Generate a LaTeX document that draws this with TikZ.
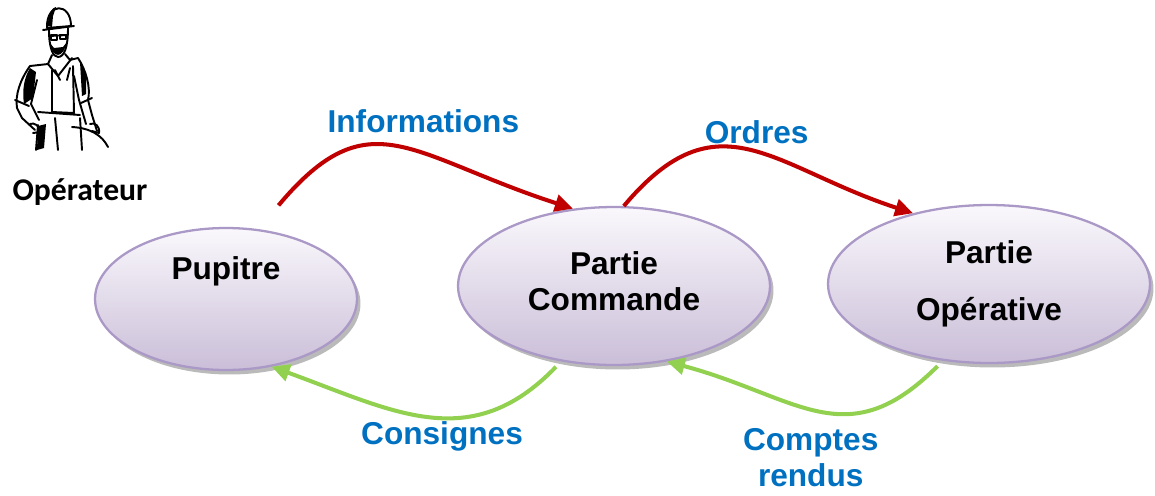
\documentclass[tikz,border=0pt]{standalone}
\usepackage{fontspec}
\setmainfont{Liberation Sans}
\newfontfamily\calibri{Carlito}
\usetikzlibrary{shapes.geometric,shadows,arrows.meta}

\definecolor{mauve}{RGB}{170,152,198}
\definecolor{mauveclair}{RGB}{250,248,252}
\definecolor{mauvefonce}{RGB}{202,190,216}
\definecolor{rouge}{RGB}{192,0,0}
\definecolor{vert}{RGB}{146,208,80}
\definecolor{bleu}{RGB}{0,112,192}

\tikzset{
  bloc/.style={ellipse, draw=mauve, line width=1.3pt, inner sep=0pt,
    top color=mauveclair, bottom color=mauvefonce, align=center,
    drop shadow={shadow xshift=0.07cm, shadow yshift=-0.09cm, fill=black!45, opacity=0.6},
    font=\bfseries\fontsize{18}{21}\selectfont},
  flux/.style={draw=rouge, line width=2.3pt, -{Triangle[length=0.36cm,width=0.34cm]}},
  retour/.style={draw=vert, line width=2.3pt, -{Triangle[length=0.36cm,width=0.34cm]}},
  etiquette/.style={text=bleu, align=center, font=\bfseries\fontsize{18}{20.5}\selectfont},
}

\begin{document}
\begin{tikzpicture}[x=0.02cm, y=0.02cm]
\useasboundingbox (0,0) rectangle (1155,495);

% l'operateur (croquis a l'encre)
\begin{scope}[shift={(0,495)}, yscale=-1, line width=1.1pt, line join=round, line cap=round]
  % casque
  \draw[fill=white] (47,28) .. controls (46,2) and (71,2) .. (71,26) -- cycle;
  \draw (43,30) -- (74,26);
  \fill (48,26) .. controls (48,12) and (52,8) .. (56,7) -- (53,16) -- (52,27) -- cycle;
  % visage, lunettes, barbe
  \draw (49,30) .. controls (49,48) and (53,57) .. (58,57) .. controls (64,57) and (68,48) .. (68,28);
  \draw (50,36) -- (67,35);
  \draw (51,35) rectangle (57,40) (60,35) rectangle (66,39);
  \fill (50,43) .. controls (53,59) and (63,59) .. (67,42) -- (63,47) -- (54,48) -- cycle;
  % cou et col
  \draw (52,55) -- (48,64) (65,54) -- (70,60);
  \draw (48,64) -- (58,76) -- (72,58);
  % epaules et bras
  \draw (48,64) -- (30,66) .. controls (20,80) and (15,95) .. (17,108) -- (22,118) -- (35,130);
  \draw (70,60) -- (78,58) .. controls (86,70) and (91,88) .. (88,100) -- (92,115) -- (97,131);
  \draw (37,80) -- (31,104) -- (39,120) (74,76) -- (79,100) -- (86,124);
  \draw (15,100) -- (29,106) (81,103) -- (92,98);
  \fill (30,68) -- (36,72) -- (33,98) -- (24,104) .. controls (22,90) and (24,78) .. cycle;
  \fill (80,62) -- (86,74) -- (86,94) -- (82,96) -- cycle;
  % salopette
  \draw (52,70) -- (52,112) -- (74,113) -- (73,66);
  \draw (55,70) -- (60,80) (70,68) -- (67,80);
  \draw (38,112) -- (80,115);
  % mains
  \draw (30,124) .. controls (34,122) and (40,126) .. (41,132) -- (33,133);
  \draw (90,124) .. controls (95,122) and (100,126) .. (99,133) -- (92,131);
  % jambes
  \draw (38,125) -- (36,150) (55,118) -- (58,150) (80,118) -- (82,150);
  \fill (38,126) -- (46,124) -- (44,148) -- (37,150) -- cycle;
  % cable
  \draw (72,127) .. controls (90,128) and (102,135) .. (108,147);
\end{scope}
\node[font=\calibri\bfseries\fontsize{18}{21}\selectfont] (op) at (80,303) {Opérateur};

% les trois blocs
\node[bloc, minimum width=5.24cm, minimum height=2.84cm] (pup) at (226,196)
  {\raisebox{0.39cm}[0pt][0pt]{Pupitre}};
\node[bloc, minimum width=6.24cm, minimum height=3.16cm, text depth=0.2cm] (cmd) at (614,209) {Partie\\Commande};
\node[bloc, minimum width=6.44cm, minimum height=3.16cm] (opr) at (989,211) {Partie\\[0.4cm]Opérative};

% informations montantes
\draw[flux, shorten <=0.62cm] (pup.65) to[out=50, in=162, looseness=1.4]
  node[pos=0.6, above=8pt, etiquette] {Informations} (cmd.118);
\draw[flux] (cmd.83) to[out=50, in=162, looseness=1.3]
  node[pos=0.52, above, etiquette] {Ordres} (opr.137);

% retours
\draw[retour, shorten <=0.15cm] (cmd.-125) to[out=226, in=340, looseness=1.15]
  node[pos=0.45, below=-2pt, etiquette] {Consignes} (pup.-56);
\draw[retour, shorten <=0.15cm] (opr.-121) to[out=225, in=345, looseness=1.26]
  node[pos=0.53, below=8pt, inner sep=2pt, etiquette] {Comptes\\rendus} (cmd.-55);
\end{tikzpicture}
\end{document}
